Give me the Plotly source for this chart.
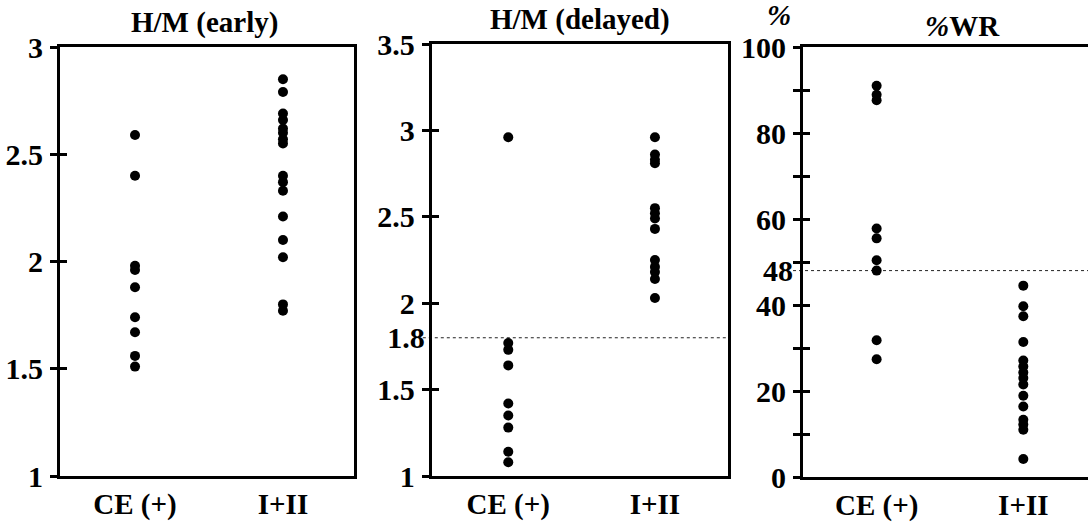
import plotly.graph_objects as go

categories = ["CE (+)", "I+II"]

early_ce = [2.59, 2.40, 1.98, 1.96, 1.88, 1.74, 1.67, 1.56, 1.51]
early_i = [2.85, 2.79, 2.69, 2.66, 2.62, 2.60, 2.57, 2.55, 2.40, 2.37, 2.33, 2.21, 2.10, 2.02, 1.80, 1.77]
delayed_ce = [2.96, 1.77, 1.73, 1.64, 1.42, 1.35, 1.28, 1.14, 1.08]
delayed_i = [2.96, 2.86, 2.83, 2.81, 2.55, 2.52, 2.49, 2.43, 2.25, 2.21, 2.18, 2.14, 2.03]
wr_ce = [91.0, 88.9, 87.6, 57.8, 55.5, 50.4, 48.0, 31.8, 27.4]
wr_i = [44.5, 39.7, 37.4, 31.4, 27.1, 25.7, 24.3, 23.0, 21.5, 18.9, 16.4, 13.3, 12.2, 11.0, 4.2]

early_ticks = [1, 1.5, 2, 2.5, 3]
early_ticktext = ["1", "1.5", "2", "2.5", "3"]
delayed_ticks = [1, 1.5, 2, 2.5, 3, 3.5]
delayed_ticktext = ["1", "1.5", "2", "2.5", "3", "3.5"]
wr_ticks = [0, 10, 20, 30, 40, 50, 60, 70, 80, 90, 100]
wr_ticktext = ["0", "", "20", "", "40", "", "60", "", "80", "", "100"]
delayed_cutoff = 1.8
wr_cutoff = 48

titles = ["H/M (early)", "H/M (delayed)", "<i>%</i>WR"]

FONT = "Liberation Serif, Times New Roman, serif"
tickfont = dict(family=FONT, size=30, color="black", weight="bold")
catfont = dict(family=FONT, size=29, color="black", weight="bold")
titlefont = dict(family=FONT, size=29, color="black", weight="bold")

fig = go.Figure()

def add_group(vals_ce, vals_i, xa, ya):
    for i, vals in enumerate([vals_ce, vals_i]):
        fig.add_trace(go.Scatter(
            x=[i] * len(vals), y=vals, mode="markers",
            marker=dict(size=10, color="black"),
            xaxis=xa, yaxis=ya, showlegend=False, hoverinfo="y"))

add_group(early_ce, early_i, "x", "y")
add_group(delayed_ce, delayed_i, "x2", "y2")
add_group(wr_ce, wr_i, "x3", "y3")

# empty traces so overlay axes get drawn
for xa, ya in [("x", "y4"), ("x2", "y5"), ("x3", "y6"), ("x2", "y7"), ("x3", "y8")]:
    fig.add_trace(go.Scatter(x=[], y=[], xaxis=xa, yaxis=ya, showlegend=False))

xdoms = [[60 / 1088, 354 / 1088], [431.7 / 1088, 728 / 1088], [803 / 1088, 1.0]]
xranges = [[-0.507, 1.48], [-0.522, 1.498], [-0.502, 1.441]]
ydoms = [[1 - 476 / 532, 1 - 47 / 532], [1 - 476 / 532, 1 - 44 / 532], [1 - 477 / 532, 1 - 47 / 532]]
yranges = [[1, 3], [1, 3.5], [0, 100]]
ytv = [early_ticks, delayed_ticks, wr_ticks]
ytt = [early_ticktext, delayed_ticktext, wr_ticktext]

layout = dict(
    width=1088, height=532, margin=dict(l=0, r=0, t=0, b=0, pad=0, autoexpand=False),
    paper_bgcolor="white", plot_bgcolor="white", showlegend=False,
    font=dict(family=FONT, color="black"),
)

for k in range(3):
    sx = "" if k == 0 else str(k + 1)
    layout["xaxis" + sx] = dict(
        domain=xdoms[k], range=xranges[k], anchor="y" + sx, automargin=False,
        tickmode="array", tickvals=[0, 1], ticktext=categories,
        ticks="", showgrid=False, zeroline=False,
        showline=True, linewidth=3, linecolor="black", mirror=True,
        tickfont=catfont, ticklabelstandoff=0, fixedrange=True)
    layout["yaxis" + sx] = dict(
        domain=ydoms[k], range=yranges[k], anchor="x" + sx, automargin=False,
        tickmode="array", tickvals=ytv[k], ticktext=ytt[k],
        ticks="outside", ticklen=7, tickwidth=3, tickcolor="black",
        showgrid=False, zeroline=False,
        showline=True, linewidth=3, linecolor="black", mirror=(k < 2),
        tickfont=tickfont, ticklabelstandoff=1, fixedrange=True)
    # inside half of crossing ticks
    layout["yaxis" + str(k + 4)] = dict(
        domain=ydoms[k], range=yranges[k], anchor="x" + sx, overlaying="y" + sx,
        automargin=False,
        tickmode="array", tickvals=ytv[k], ticks="inside", ticklen=7, tickwidth=3,
        tickcolor="black", showticklabels=False, showline=False, showgrid=False,
        zeroline=False, fixedrange=True)

# cutoff labels without tick marks
layout["yaxis7"] = dict(
    domain=ydoms[1], range=yranges[1], anchor="x2", overlaying="y2", automargin=False,
    tickmode="array", tickvals=[delayed_cutoff], ticktext=[str(delayed_cutoff)],
    ticks="", showline=False, showgrid=False, zeroline=False,
    tickfont=tickfont, ticklabelstandoff=6, fixedrange=True)
layout["yaxis8"] = dict(
    domain=ydoms[2], range=yranges[2], anchor="x3", overlaying="y3", automargin=False,
    tickmode="array", tickvals=[wr_cutoff], ticktext=[str(wr_cutoff)],
    ticks="", showline=False, showgrid=False, zeroline=False,
    tickfont=tickfont, ticklabelstandoff=9, fixedrange=True)

fig.update_layout(**layout)

# dotted cutoff lines
for xa, ya, yv, x0 in [("x2", "y2", delayed_cutoff, -0.03), ("x3", "y3", wr_cutoff, -0.035)]:
    fig.add_shape(type="line", xref=xa + " domain", yref=ya, x0=x0, x1=1, y0=yv, y1=yv,
                  line=dict(color="#222", width=1, dash="dot"), layer="below")

# panel titles
title_x = [0.49, 0.5, 0.56]
title_shift = [6, 6, 3]
for k in range(3):
    sx = "" if k == 0 else str(k + 1)
    fig.add_annotation(text=titles[k], xref="x" + sx + " domain", yref="y" + sx + " domain",
                       x=title_x[k], y=1, yanchor="bottom", yshift=title_shift[k], showarrow=False,
                       font=titlefont)

fig.add_annotation(text="<i>%</i>", xref="x3 domain", yref="y3 domain", x=-0.035, y=1,
                   xanchor="right", yanchor="bottom", yshift=14, xshift=0, showarrow=False,
                   font=titlefont)

fig.write_html("out.html")
